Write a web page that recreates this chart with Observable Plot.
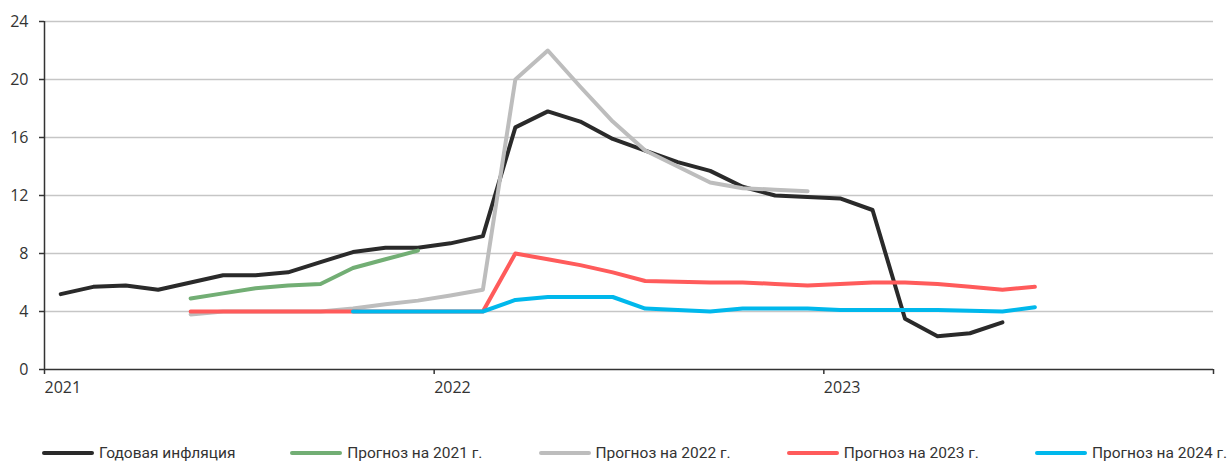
<!DOCTYPE html>
<html>
<head>
<meta charset="utf-8">
<script src="https://cdn.jsdelivr.net/npm/d3@7"></script>
<script src="https://cdn.jsdelivr.net/npm/@observablehq/plot@0.6"></script>
<style>
  html, body { margin: 0; padding: 0; background: #fff; }
  #wrap { position: relative; width: 1229px; height: 461px; }
  #legend { position: absolute; left: 0; top: 444px; width: 1229px; height: 18px;
            font-family: Roboto, "Noto Sans", sans-serif; font-size: 15.5px; color: #333; }
  .item { position: absolute; top: 0; height: 18px; display: flex; align-items: center; white-space: nowrap; }
  .swatch { width: 52px; height: 4px; border-radius: 2px; margin-right: 5px; }
</style>
</head>
<body>
<div id="wrap"><div id="chart"></div><div id="legend"></div></div>
<script>
// Months from January 2021 to July 2023 (category positions on the x axis)
const months = [
  "2021-01","2021-02","2021-03","2021-04","2021-05","2021-06","2021-07","2021-08","2021-09","2021-10","2021-11","2021-12",
  "2022-01","2022-02","2022-03","2022-04","2022-05","2022-06","2022-07","2022-08","2022-09","2022-10","2022-11","2022-12",
  "2023-01","2023-02","2023-03","2023-04","2023-05","2023-06","2023-07"
];

// Annual inflation, %
const inflation = [
  5.2, 5.7, 5.8, 5.5, 6.0, 6.5, 6.5, 6.7, 7.4, 8.1, 8.4, 8.4,
  8.7, 9.2, 16.7, 17.8, 17.1, 15.9, 15.1, 14.3, 13.7, 12.6, 12.0, 11.9,
  11.8, 11.0, 3.5, 2.3, 2.5, 3.25, null
];

// Forecast for 2021
const forecast2021 = [
  null, null, null, null, 4.9, 5.25, 5.6, 5.8, 5.9, 7.0, 7.6, 8.2,
  null, null, null, null, null, null, null, null, null, null, null, null,
  null, null, null, null, null, null, null
];

// Forecast for 2022
const forecast2022 = [
  null, null, null, null, 3.8, 4.0, 4.0, 4.0, 4.0, 4.2, 4.5, 4.75,
  5.1, 5.5, 20.0, 22.0, 19.5, 17.1, 15.1, 14.0, 12.9, 12.5, 12.4, 12.3,
  null, null, null, null, null, null, null
];

// Forecast for 2023
const forecast2023 = [
  null, null, null, null, 4.0, 4.0, 4.0, 4.0, 4.0, 4.0, 4.0, 4.0,
  4.0, 4.0, 8.0, 7.6, 7.2, 6.7, 6.1, 6.05, 6.0, 6.0, 5.9, 5.8,
  5.9, 6.0, 6.0, 5.9, 5.7, 5.5, 5.7
];

// Forecast for 2024
const forecast2024 = [
  null, null, null, null, null, null, null, null, null, 4.0, 4.0, 4.0,
  4.0, 4.0, 4.8, 5.0, 5.0, 5.0, 4.2, 4.1, 4.0, 4.2, 4.2, 4.2,
  4.1, 4.1, 4.1, 4.1, 4.05, 4.0, 4.3
];

const seriesNames = ["Годовая инфляция", "Прогноз на 2021 г.", "Прогноз на 2022 г.", "Прогноз на 2023 г.", "Прогноз на 2024 г."];
const seriesColors = ["#2a2a2a", "#72ae74", "#bdbdbd", "#ff5b5b", "#00b8ec"];
const seriesValues = [inflation, forecast2021, forecast2022, forecast2023, forecast2024];

// Axis ticks: years start every 12 months
const xTicks = [0, 12, 24, 36];
const xTickLabels = ["2021", "2022", "2023", ""];
const yTicks = [0, 4, 8, 12, 16, 20, 24];

// Each month sits in the middle of its slot
const rows = seriesValues.map((vals, s) =>
  months.map((m, i) => ({ s, month: m, pos: i + 0.5, value: vals[i] })).filter(d => d.value != null)
);

const axisFont = "'Open Sans', 'Noto Sans', sans-serif";

const chart = Plot.plot({
  width: 1229,
  height: 410,
  marginLeft: 44,
  marginRight: 16,
  marginTop: 21,
  marginBottom: 41,
  style: { background: "#fff", color: "#333", fontFamily: axisFont, fontSize: "16px" },
  x: { type: "linear", domain: [0, 36] },
  y: { domain: [0, 24] },
  marks: [
    Plot.gridY(yTicks.filter(d => d > 0), { stroke: "#c6c6c6", strokeOpacity: 1, strokeWidth: 1.5 }),
    Plot.axisY({ ticks: yTicks, tickSize: 5, tickPadding: 11, label: null, stroke: "#333", strokeWidth: 1.5,
                 fill: "#333", fontSize: 16 }),
    Plot.axisX({ ticks: xTicks, tickFormat: (d, i) => xTickLabels[i], textAnchor: "start", tickSize: 5, tickPadding: 7,
                 label: null, stroke: "#333", strokeWidth: 1.5, fill: "#333", fontSize: 16 }),
    Plot.ruleX([0], { stroke: "#333", strokeWidth: 1.5 }),
    Plot.ruleY([0], { stroke: "#333", strokeWidth: 1.5 }),
    ...rows.map((data, s) =>
      Plot.line(data, { x: "pos", y: "value", stroke: seriesColors[s], strokeWidth: 4,
                        strokeLinecap: "round", strokeLinejoin: "round" })
    )
  ]
});
document.getElementById("chart").appendChild(chart);

// Legend below the chart
const legend = d3.select("#legend");
seriesNames.forEach((name, s) => {
  const item = legend.append("div").attr("class", "item").style("left", (42 + s * 248.25) + "px");
  item.append("div").attr("class", "swatch").style("background", seriesColors[s]);
  item.append("span").text(name);
});
</script>
</body>
</html>
